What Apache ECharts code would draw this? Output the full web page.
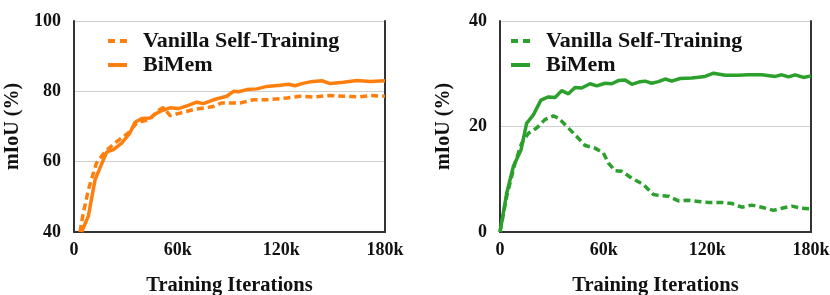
<!DOCTYPE html>
<html><head><meta charset="utf-8">
<script src="https://cdn.jsdelivr.net/npm/echarts@6/dist/echarts.min.js"></script>
<style>
html,body{margin:0;padding:0;background:#fff;width:830px;height:295px;overflow:hidden;}
#wrap{display:flex;width:830px;height:295px;overflow:hidden;}
.c{width:415px;height:295px;flex:none;overflow:hidden;}
</style></head>
<body><div id="wrap"><div id="c1" class="c"></div><div id="c2" class="c"></div></div>
<script>
// Left chart (orange)
var leftBiMemX = [4.4,8.3,12.2,18.9,22.8,27.6,32.4,35.3,39.2,44,47.9,50.8,55.6,60.4,66.2,71,74.9,80.7,88.4,92.3,95.2,100,105.8,111.6,119.3,124.1,128,131.9,136.7,143.4,148.3,156,163.7,171.4,180];
var leftBiMemY = [40,44.5,54.9,62.7,63.4,65.3,68.2,71.2,72.3,72.4,73.8,74.5,75.3,75.1,76,76.9,76.5,77.6,78.6,80,79.9,80.5,80.7,81.4,81.7,82,81.6,82.2,82.7,83,82.2,82.6,83.1,82.8,83];
var leftVanX = [3.5,5,8.3,13,18,23.7,31.5,36.3,44,47.9,51.7,55.6,61.4,69.1,80.7,85.5,96.1,103.9,111.6,123.2,130.9,138.6,147.3,156,164.7,171.4,180];
var leftVanY = [40,44.5,52,59.6,62.9,65.3,68.2,71,72.1,74.3,75.4,73.1,73.8,74.8,75.7,76.7,76.7,77.6,77.6,78.1,78.6,78.4,78.8,78.6,78.4,78.8,78.6];
// Right chart (green)
var rightBiMemX = [0,3.9,7.7,12.2,15.4,19.3,23.7,28,31.9,35.7,39.6,43.4,47.3,52.1,56,60.8,64.7,68.5,72.4,76.3,81.1,84,87.8,91.7,95.6,99.4,104.2,111,118.7,123.6,130.3,138,143.8,151.5,159.3,163.1,167,170.8,175.7,180];
var rightBiMemY = [0,7.4,12.4,15.6,20.6,22.2,25,25.6,25.5,26.8,26.2,27.4,27.3,28.1,27.7,28.2,28.1,28.7,28.8,28,28.5,28.6,28.2,28.5,29,28.6,29.1,29.2,29.5,30.1,29.7,29.7,29.8,29.8,29.5,29.8,29.4,29.8,29.3,29.6];
var rightVanX = [0,3.9,8.7,12.5,16.4,21.2,26,30.9,33.8,39.6,44.4,49.2,55,59.8,62.7,66.6,70.5,76.3,83,88.8,92.7,97.5,103.3,109.1,114.9,120.7,128.4,134.2,140,145.8,151.5,158.3,163.1,168.9,174.7,180];
var rightVanY = [0,6.8,13.1,16.8,18.7,19.7,21.3,22,21.6,19.7,18.1,16.4,15.9,15,13.1,11.6,11.5,10.2,9,7.1,6.9,6.8,5.9,6,5.8,5.6,5.6,5.4,4.7,5.1,4.7,4.1,4.5,4.9,4.5,4.4];
var xTicks = ['0','60k','120k','180k'];
var seriesNames = ['Vanilla Self-Training','BiMem'];

function pairs(xs, ys){ return xs.map(function(x,i){return [x*1000, ys[i]];}); }

var FONT = 'Liberation Serif';
var DASH_ICON = 'path://M0,0H7V4H0Z M12,0H19V4H12Z';
var SOLID_ICON = 'path://M0,0H19V4H0Z';
function makeOption(color, yMin, yMax, vanX, vanY, bimX, bimY, gridLeft, legendLeft, labelMargin){
  return {
    animation:false,
    textStyle:{fontFamily:FONT},
    grid:{left:gridLeft, top:21, width:311, height:211, containLabel:false, outerBoundsMode:'none'},
    legend:{
      data:[{name:seriesNames[0], icon:DASH_ICON, itemStyle:{color:color}},
            {name:seriesNames[1], icon:SOLID_ICON, itemStyle:{color:color}}],
      orient:'vertical', left:legendLeft, top:30, padding:0,
      itemWidth:19, itemHeight:4, itemGap:2,
      textStyle:{fontFamily:FONT, fontWeight:'bold', fontSize:22, color:'#111', padding:[0,0,0,11]}
    },
    xAxis:{type:'value', min:0, max:180000, interval:60000,
      axisLine:{show:true, lineStyle:{color:'#333', width:2}}, axisTick:{show:false}, splitLine:{show:false},
      axisLabel:{color:'#111', fontFamily:FONT, fontWeight:'bold', fontSize:18, margin:9,
        formatter:function(v){ return xTicks[Math.round(v/60000)]; }},
      name:'Training Iterations', nameLocation:'middle', nameGap:43,
      nameTextStyle:{color:'#111', fontFamily:FONT, fontWeight:'bold', fontSize:20.5}
    },
    yAxis:[{type:'value', min:yMin, max:yMax, interval:20,
      axisLine:{show:true, lineStyle:{color:'#333', width:2}}, axisTick:{show:false},
      splitLine:{show:true, lineStyle:{color:'#d0d0d0', width:1}},
      axisLabel:{color:'#111', fontFamily:FONT, fontWeight:'bold', fontSize:18, margin:labelMargin},
      name:'mIoU (%)', nameLocation:'middle', nameGap:46, nameRotate:90,
      nameTextStyle:{color:'#111', fontFamily:FONT, fontWeight:'bold', fontSize:20}
    },{type:'value', min:yMin, max:yMax, interval:20, position:'right',
      axisLine:{show:true, onZero:false, lineStyle:{color:'#333', width:2}}, axisTick:{show:false},
      axisLabel:{show:false}, splitLine:{show:false}}],
    series:[
      {name:seriesNames[0], type:'line', data:pairs(vanX, vanY), showSymbol:false, symbol:'none', clip:true,
        lineStyle:{color:color, width:3.5, type:[7,4]}, itemStyle:{color:color}},
      {name:seriesNames[1], type:'line', data:pairs(bimX, bimY), showSymbol:false, symbol:'none', clip:true,
        lineStyle:{color:color, width:3.5}, itemStyle:{color:color}}
    ]
  };
}
var c1 = echarts.init(document.getElementById('c1'), null, {renderer:'canvas', width:415, height:295});
c1.setOption(makeOption('#ff7f0e', 40, 100, leftVanX, leftVanY, leftBiMemX, leftBiMemY, 74, 108, 13));
var c2 = echarts.init(document.getElementById('c2'), null, {renderer:'canvas', width:415, height:295});
c2.setOption(makeOption('#2ca02c', 0, 40, rightVanX, rightVanY, rightBiMemX, rightBiMemY, 85, 96, 13));
</script></body></html>
